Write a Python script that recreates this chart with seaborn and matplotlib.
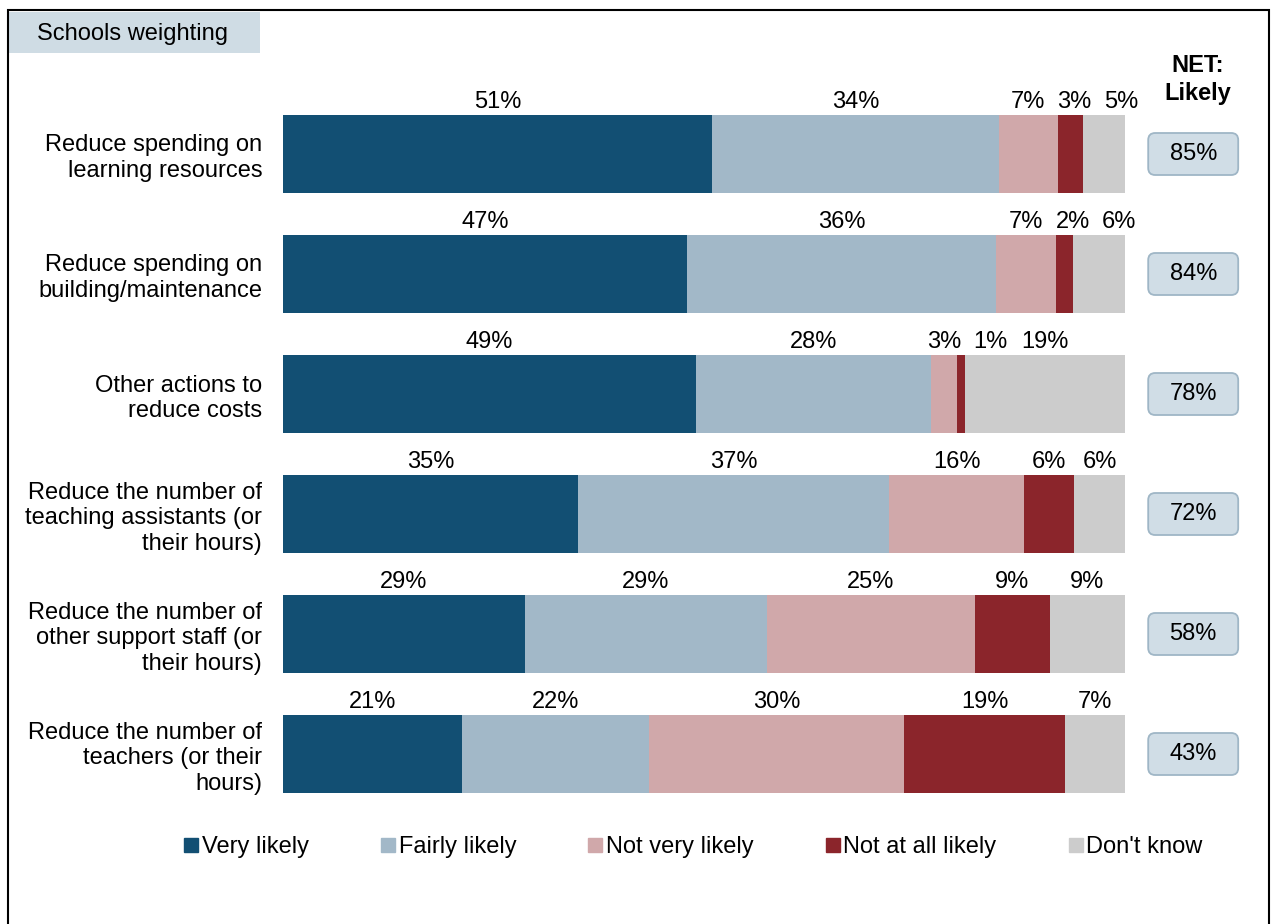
import numpy as np
import pandas as pd
import seaborn as sns
import matplotlib.pyplot as plt
from matplotlib.lines import Line2D
from matplotlib.patches import Rectangle, FancyBboxPatch

categories = [
    "Reduce spending on\nlearning resources",
    "Reduce spending on\nbuilding/maintenance",
    "Other actions to\nreduce costs",
    "Reduce the number of\nteaching assistants (or\ntheir hours)",
    "Reduce the number of\nother support staff (or\ntheir hours)",
    "Reduce the number of\nteachers (or their\nhours)",
]
series = ["Very likely", "Fairly likely", "Not very likely", "Not at all likely", "Don't know"]
very_likely = [51, 47, 49, 35, 29, 21]
fairly_likely = [34, 36, 28, 37, 29, 22]
not_very_likely = [7, 7, 3, 16, 25, 30]
not_at_all_likely = [3, 2, 1, 6, 9, 19]
dont_know = [5, 6, 19, 6, 9, 7]
net_likely = [85, 84, 78, 72, 58, 43]

colors = ["#124f73", "#a2b8c8", "#d0a8aa", "#8b252b", "#cccccc"]
FS = 17

plt.rcParams["font.family"] = ["Liberation Sans", "DejaVu Sans"]

vals = np.array([very_likely, fairly_likely, not_very_likely, not_at_all_likely, dont_know], dtype=float)
shares = vals / vals.sum(axis=0) * 100  # bars fill the full width
cum = shares.cumsum(axis=0)

fig = plt.figure(figsize=(12.72, 9.24), dpi=100)
ax = fig.add_axes([283 / 1272, 1 - 814 / 924, 842 / 1272, 720 / 924])

# stacked bars: draw cumulative totals, longest first
for k in range(len(series) - 1, -1, -1):
    df = pd.DataFrame({"category": categories, "cum": cum[k]})
    sns.barplot(data=df, y="category", x="cum", color=colors[k], width=0.65,
                orient="h", ax=ax, saturation=1, linewidth=0)

# value labels above each segment, nudged apart where crowded
min_sep = 5.5
for i in range(len(categories)):
    xs = list(cum[:, i] - shares[:, i] / 2)
    for k in range(1, len(xs)):
        if xs[k] - xs[k - 1] < min_sep:
            xs[k] = xs[k - 1] + min_sep
    for k in range(len(series)):
        ax.text(xs[k], i - 0.43, f"{int(vals[k, i])}%", ha="center", va="center",
                fontsize=FS, color="black")

ax.set_xlim(0, 100)
ax.set_ylim(len(categories) - 0.5, -0.5)
ax.set_xlabel("")
ax.set_ylabel("")
ax.set_xticks([])
ax.tick_params(axis="y", length=0, pad=15, labelsize=FS)
for lbl in ax.get_yticklabels():
    lbl.set_linespacing(1.2)
for s in ax.spines.values():
    s.set_visible(False)

# NET column
trans = ax.get_yaxis_transform()
ax.text(1.086, -0.62, "NET:\nLikely", transform=trans, ha="center", va="center",
        fontsize=FS, fontweight="bold", linespacing=1.3)
box_w, box_h = 90, 42  # pixels
for i, v in enumerate(net_likely):
    cx, cy = ax.transData.transform((108.1, i))
    ax.add_patch(FancyBboxPatch((cx - box_w / 2, cy - box_h / 2), box_w, box_h,
                                boxstyle="round,pad=0,rounding_size=7", transform=None,
                                fc="#d0dde6", ec="#9fb6c6", lw=1.3, clip_on=False))
    ax.text(108.1, i, f"{v}%", ha="center", va="center", fontsize=FS, clip_on=False)

# legend
handles = [Line2D([0], [0], marker="s", linestyle="", markersize=10,
                  markerfacecolor=c, markeredgecolor=c) for c in colors]
fig.legend(handles, series, loc="center", bbox_to_anchor=(694 / 1272, 1 - 847 / 924),
           ncol=5, frameon=False, fontsize=FS, handlelength=0.5, handletextpad=0.2,
           columnspacing=3.1)

# header tag and outer frame
fig.patches.append(Rectangle((8 / 1272, 1 - 53 / 924), 252 / 1272, 41 / 924,
                             transform=fig.transFigure, fc="#cfdce4", ec="none"))
fig.text(37 / 1272, 1 - 34 / 924, "Schools weighting", fontsize=FS, va="center", ha="left")
fig.patches.append(Rectangle((8 / 1272, -0.01), 1261 / 1272, 1.01 - 10 / 924,
                             transform=fig.transFigure, fc="none", ec="black", lw=1.5))

fig.savefig("out.png", dpi=100)
